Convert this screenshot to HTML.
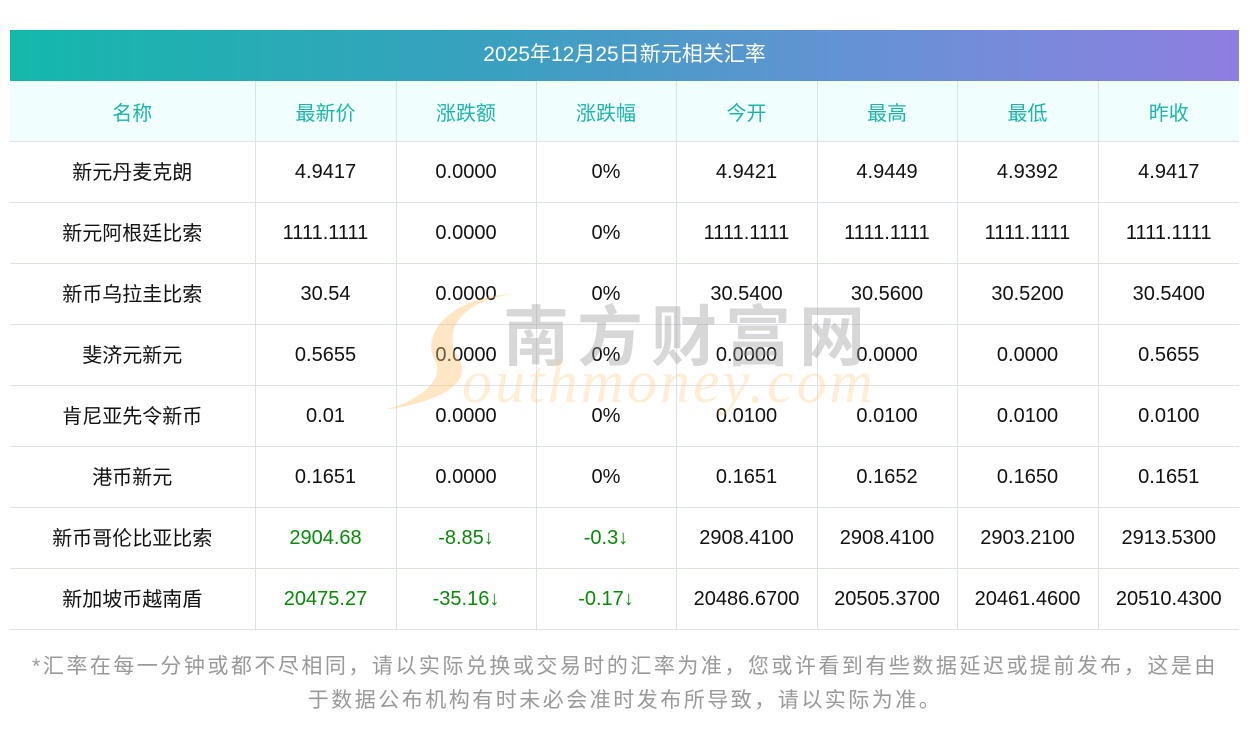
<!DOCTYPE html>
<html><head><meta charset="utf-8"><style>
body{margin:0;width:1250px;height:733px;background:#fff;position:relative;overflow:hidden;font-family:"Liberation Sans","Noto Sans CJK SC",sans-serif;}
.title{position:absolute;left:10px;top:30px;width:1229px;height:51px;background:linear-gradient(90deg,#14b8ab,#3aa0c0 40%,#6e8fd8 75%,#8f7ee0);color:#fff;font-size:21px;line-height:49px;text-align:center;}
table{position:absolute;left:10px;top:81px;border-collapse:collapse;width:1229px;table-layout:fixed;}
td{height:60px;border:1px solid #dde1ea;text-align:center;font-size:20px;color:#111;padding:0;}
td span{position:relative;top:-2px;}
tr:first-child td{background:#f0fefe;color:#1db5aa;border-top:none;}
td:first-child{border-left:none;}td:last-child{border-right:none;}
.g{color:#0a8a0a;}
.note{position:absolute;left:0px;top:650px;width:1250px;text-align:center;color:#999;font-size:21px;letter-spacing:2.5px;line-height:34px;}
.wm1{position:absolute;left:503px;top:284px;font-size:66px;color:rgba(150,150,150,.38);font-weight:bold;letter-spacing:8px;font-family:"Noto Sans CJK SC",sans-serif;}
.wm2{position:absolute;left:462px;top:348px;font-size:60px;color:rgba(255,200,120,.3);font-style:italic;font-family:"Liberation Serif",serif;letter-spacing:3px;}
</style></head><body>
<div class="title">2025年12月25日新元相关汇率</div>
<table>
<colgroup><col style="width:245px"><col style="width:141px"><col style="width:140px"><col style="width:140px"><col style="width:141px"><col style="width:140px"><col style="width:141px"><col style="width:141px"></colgroup>
<tr><td>名称</td><td>最新价</td><td>涨跌额</td><td>涨跌幅</td><td>今开</td><td>最高</td><td>最低</td><td>昨收</td></tr>
<tr><td><span>新元丹麦克朗</span></td><td>4.9417</td><td>0.0000</td><td>0%</td><td>4.9421</td><td>4.9449</td><td>4.9392</td><td>4.9417</td></tr>
<tr><td><span>新元阿根廷比索</span></td><td>1111.1111</td><td>0.0000</td><td>0%</td><td>1111.1111</td><td>1111.1111</td><td>1111.1111</td><td>1111.1111</td></tr>
<tr><td><span>新币乌拉圭比索</span></td><td>30.54</td><td>0.0000</td><td>0%</td><td>30.5400</td><td>30.5600</td><td>30.5200</td><td>30.5400</td></tr>
<tr><td><span>斐济元新元</span></td><td>0.5655</td><td>0.0000</td><td>0%</td><td>0.0000</td><td>0.0000</td><td>0.0000</td><td>0.5655</td></tr>
<tr><td><span>肯尼亚先令新币</span></td><td>0.01</td><td>0.0000</td><td>0%</td><td>0.0100</td><td>0.0100</td><td>0.0100</td><td>0.0100</td></tr>
<tr><td><span>港币新元</span></td><td>0.1651</td><td>0.0000</td><td>0%</td><td>0.1651</td><td>0.1652</td><td>0.1650</td><td>0.1651</td></tr>
<tr><td><span>新币哥伦比亚比索</span></td><td class="g">2904.68</td><td class="g">-8.85↓</td><td class="g">-0.3↓</td><td>2908.4100</td><td>2908.4100</td><td>2903.2100</td><td>2913.5300</td></tr>
<tr><td><span>新加坡币越南盾</span></td><td class="g">20475.27</td><td class="g">-35.16↓</td><td class="g">-0.17↓</td><td>20486.6700</td><td>20505.3700</td><td>20461.4600</td><td>20510.4300</td></tr>
</table>
<svg style="position:absolute;left:380px;top:290px" width="140" height="125"><path d="M135 4 C70 6 40 45 55 70 C65 90 40 110 5 120 C60 112 95 92 78 68 C62 42 80 10 135 4Z" fill="rgba(255,195,110,.4)"/></svg>
<div class="wm1">南方财富网</div>
<div class="wm2">outhmoney.com</div>
<div class="note">*汇率在每一分钟或都不尽相同，请以实际兑换或交易时的汇率为准，您或许看到有些数据延迟或提前发布，这是由<br>于数据公布机构有时未必会准时发布所导致，请以实际为准。</div>
</body></html>
